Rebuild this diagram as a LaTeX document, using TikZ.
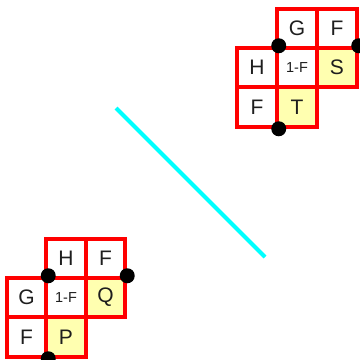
\documentclass[tikz,border=0pt]{standalone}
\usepackage{fontspec}
\setmainfont{Liberation Sans}
\definecolor{cellyellow}{RGB}{255,255,176}
\definecolor{celltext}{RGB}{30,30,30}
\definecolor{linecyan}{RGB}{0,255,255}
\begin{document}
\begin{tikzpicture}[x=1pt,y=-1pt,
 cell/.style={draw=red, line width=4pt, minimum size=39.5pt, inner sep=0pt, text=celltext, font=\fontsize{21}{21}\selectfont},
 hl/.style={fill=cellyellow},
 small/.style={font=\fontsize{14.5}{14.5}\selectfont},
 dot/.style={circle, fill=black, minimum size=15pt, inner sep=0pt}]
\useasboundingbox (0,0) rectangle (360,360);
% top-right group
\node[cell,hl] (S) at (337,67.5) {S};
\node[cell,hl] (T) at (297,107) {T};
\node[cell] (G1) at (297,28.5) {G};
\node[cell] (F1) at (337,28.5) {F};
\node[cell] (H1) at (257,67.5) {H};
\node[cell,small] (M1) at (297,67.5) {1-F};
\node[cell] (F2) at (257,107) {F};
\node[dot] (d1) at (H1.north east) {};
\node[dot] (d2) at (S.north east) {};
\node[dot] (d3) at (F2.south east) {};
% bottom-left group
\node[cell,hl] (Q) at (105.5,297.5) {Q};
\node[cell,hl] (P) at (66,337) {P};
\node[cell] (H2) at (66,258.5) {H};
\node[cell] (F3) at (105.5,258.5) {F};
\node[cell] (G2) at (26.5,297.5) {G};
\node[cell,small] (M2) at (66,297.5) {1-F};
\node[cell] (F4) at (26.5,337) {F};
\node[dot] (d4) at (G2.north east) {};
\node[dot] (d5) at (Q.north east) {};
\node[dot] (d6) at (F4.south east) {};
% cyan line
\coordinate (c1) at (116,108);
\coordinate (c2) at (265,257);
\draw[linecyan, line width=4pt] (c1) -- (c2);
\end{tikzpicture}
\end{document}
